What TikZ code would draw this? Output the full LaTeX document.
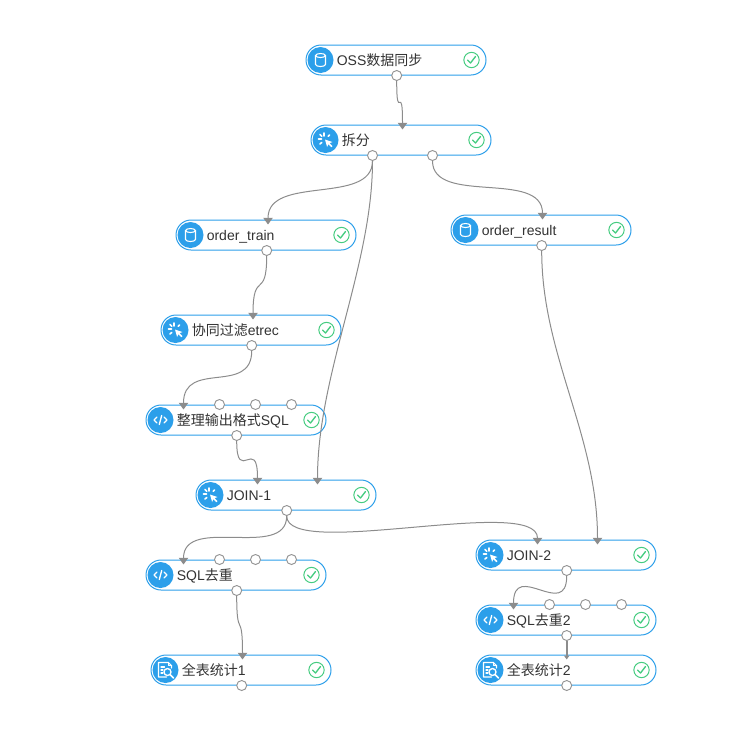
\documentclass[tikz,border=0pt]{standalone}
\usepackage{fontspec}
\setmainfont{Liberation Sans}
\newfontfamily\cjk{Noto Sans CJK SC}
\newcommand{\zh}[1]{{\cjk #1}}
\usetikzlibrary{arrows.meta,calc}
\definecolor{flowblue}{HTML}{2C9FEA}
\definecolor{wiregray}{HTML}{8C8C8C}
\definecolor{okgreen}{HTML}{45CC80}
\tikzset{
  pill/.style={draw=flowblue, fill=white, rectangle, rounded corners=11.25pt, line width=.75pt, inner sep=0pt, minimum width=135pt, minimum height=22.5pt},
  icon/.style={circle, fill=flowblue, inner sep=0pt, minimum size=19.5pt},
  okmark/.style={circle, draw=okgreen, fill=white, line width=.75pt, inner sep=0pt, minimum size=11.5pt},
  port/.style={circle, draw=gray!85, fill=white, line width=.7pt, inner sep=0pt, minimum size=7.5pt},
  lbl/.style={anchor=base west, inner sep=0pt, text=black!80, font=\fontsize{10.5pt}{12pt}\selectfont},
  wire/.style={draw=wiregray, line width=.75pt, -{Triangle[length=5pt,width=7pt]}},
  glyph/.style={draw=white, line width=.8pt, line cap=round, line join=round},
  dbicon/.pic={
    \draw[glyph] (0,-4.5) ellipse[x radius=5, y radius=2];
    \draw[glyph] (-5,-4.5) -- (-5,4.5) arc[start angle=180, end angle=0, x radius=5, y radius=2] -- (5,-4.5);
  },
  clickicon/.pic={
    \fill[white] (-.5,-.5) -- (7,2) -- (4,3.2) -- (7,6.2) -- (5.8,7.2) -- (2.8,4.2) -- (1.6,7) -- cycle;
    \foreach \a/\b/\c/\d in {-7/-1/-4/-1, -1.5/-7/-1.5/-4, -5.5/-5.5/-3.7/-3.7, 4/-5/2.6/-3.6, -5.5/4/-3.7/2.4}
      \draw[glyph, line width=1.2pt] (\a,\b) -- (\c,\d);
  },
  codeicon/.pic={
    \draw[glyph, line width=1pt] (-3.5,-3) -- (-6.5,0) -- (-3.5,3);
    \draw[glyph, line width=1pt] (3.5,-3) -- (6.5,0) -- (3.5,3);
    \draw[glyph, line width=1pt] (1.2,-4.5) -- (-1.2,4.5);
  },
  staticon/.pic={
    \draw[glyph] (1,7) -- (-7,7) -- (-7,-7.5) -- (3,-7.5) -- (6,-4.5) -- (6,-2);
    \draw[glyph] (3,-7.5) -- (3,-4.5) -- (6,-4.5);
    \draw[glyph] (-4.5,-3) -- (-1,-3) (-4.5,0) -- (-2.5,0) (-4.5,3) -- (-2.5,3);
    \draw[glyph, line width=1pt] (2,2) circle[radius=3.5];
    \draw[glyph, line width=1.3pt] (4.6,4.6) -- (8,8);
  }
}
\begin{document}
\begin{tikzpicture}[x=.75pt, y=-.75pt]
    \useasboundingbox (0,0) rectangle (755,739);

    \node[pill] (oss) at (396,60) {};
    \node[pill] (split) at (401,140) {};
    \node[pill] (train) at (266,235) {};
    \node[pill] (result) at (541,230) {};
    \node[pill] (etrec) at (251,330) {};
    \node[pill] (format) at (236,420) {};
    \node[pill] (joina) at (286,495) {};
    \node[pill] (joinb) at (566,555) {};
    \node[pill] (sqla) at (236,575) {};
    \node[pill] (sqlb) at (566,620) {};
    \node[pill] (stata) at (241,670) {};
    \node[pill] (statb) at (566,670) {};

    % icon, label and check of every box
    \foreach \n/\ic/\t in {oss/dbicon/{OSS\zh{数据同步}}, split/clickicon/{\zh{拆分}}, train/dbicon/{order\_train}, result/dbicon/{order\_result}, etrec/clickicon/{\zh{协同过滤}etrec}, format/codeicon/{\zh{整理输出格式}SQL}, joina/clickicon/{JOIN-1}, joinb/clickicon/{JOIN-2}, sqla/codeicon/{SQL\zh{去重}}, sqlb/codeicon/{SQL\zh{去重}2}, stata/staticon/{\zh{全表统计}1}, statb/staticon/{\zh{全表统计}2}} {
        \node[icon] (\n icon) at ([shift={(15,0)}]\n.west) {};
        \pic at (\n icon) {\ic};
        \node[lbl] (\n text) at ([shift={(31,5)}]\n.west) {\t};
        \node[okmark] (\n ok) at ([shift={(-15,0)}]\n.east) {};
        \draw[okgreen, line width=1pt, line cap=round, line join=round] ([shift={(-4,0)}]\n ok.center) -- ([shift={(-1,3)}]\n ok.center) -- ([shift={(4,-3.5)}]\n ok.center);
    }

    % output ports
    \foreach \n in {oss,train,result,etrec,format,joina,joinb,sqla,sqlb,stata,statb}
        \node[port] (\n out) at ([shift={(.7,0)}]\n.south) {};
    \node[port] (splitl) at ([shift={(-28.5,0)}]split.south) {};
    \node[port] (splitr) at ([shift={(31.5,0)}]split.south) {};

    % spare input ports of the sql boxes
    \foreach \n in {format,sqla,sqlb}
        \foreach \i/\s in {a/-16.5,b/19.5,c/55.5}
            \node[port] (\n\i) at ([shift={(\s,0)}]\n.north) {};

    % where the arrows land
    \coordinate (splitin) at ([shift={(1.5,5)}]split.north);
    \coordinate (trainin) at ([shift={(2,5)}]train.north);
    \coordinate (resultin) at ([shift={(1.5,5)}]result.north);
    \coordinate (etrecin) at ([shift={(2,5)}]etrec.north);
    \coordinate (formatin) at ([shift={(-52.5,5)}]format.north);
    \coordinate (joinal) at ([shift={(-28.5,5)}]joina.north);
    \coordinate (joinar) at ([shift={(31.5,5)}]joina.north);
    \coordinate (joinbl) at ([shift={(-28.5,5)}]joinb.north);
    \coordinate (joinbr) at ([shift={(31.5,5)}]joinb.north);
    \coordinate (sqlain) at ([shift={(-52.5,5)}]sqla.north);
    \coordinate (sqlbin) at ([shift={(-52.5,5)}]sqlb.north);
    \coordinate (statain) at ([shift={(1.5,5)}]stata.north);
    \coordinate (statbin) at ([shift={(.7,5)}]statb.north);

    \foreach \a/\b/\h in {ossout/splitin/50, splitl/trainin/50, splitr/resultin/50, splitl/joinar/110, trainout/etrecin/50, etrecout/formatin/50, formatout/joinal/50, joinaout/sqlain/50, joinaout/joinbl/50, resultout/joinbr/110, joinbout/sqlbin/50, sqlaout/statain/50}
        \draw[wire] (\a) .. controls +(0,\h) and +(0,-\h) .. (\b);
    \draw[wire, line width=1.5pt, -{Triangle[length=3pt,width=4pt]}] (sqlbout) -- (statbin);

\end{tikzpicture}
\end{document}
